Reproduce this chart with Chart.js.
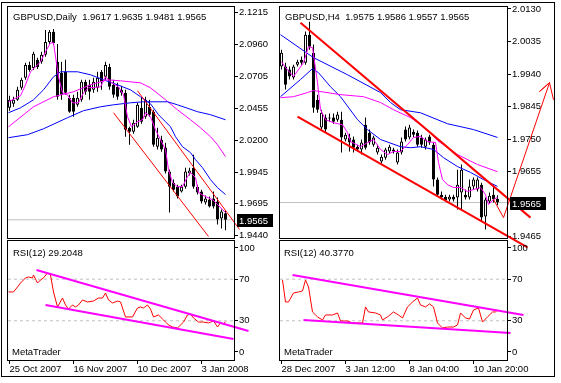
<!DOCTYPE html>
<html><head><meta charset="utf-8">
<script src="https://cdn.jsdelivr.net/npm/chart.js@4.4.1/dist/chart.umd.min.js"></script>
<style>
html,body{margin:0;padding:0;background:#fff;}
#wrap{position:relative;width:561px;height:383px;overflow:hidden;background:#fff;}
canvas{position:absolute;left:0;top:0;}
.t{position:absolute;font-family:'Liberation Sans',Arial,sans-serif;font-size:9.5px;line-height:11px;color:#000;white-space:pre;}
#frame{position:absolute;left:1px;top:2px;width:552px;height:373px;border:1px solid #000;}
</style></head><body>
<div id="wrap">
<div id="frame"></div>
<canvas id="lm" width="561" height="383"></canvas>
<canvas id="lr" width="561" height="383"></canvas>
<canvas id="rm" width="561" height="383"></canvas>
<canvas id="rr" width="561" height="383"></canvas>
<div class="t" id="ltitle" style="left:13px;top:11px"></div>
<div class="t" id="lrsi" style="left:13px;top:247px"></div>
<div class="t" style="left:12px;top:346px">MetaTrader</div>
<div class="t" id="rtitle" style="left:285px;top:11px"></div>
<div class="t" id="rrsi" style="left:284px;top:247px"></div>
<div class="t" style="left:284px;top:346px">MetaTrader</div>
</div>
<script>
// ---------------- LEFT (Daily) ----------------
const leftSymbol = 'GBPUSD,Daily';
const leftDateIdx = [0, 16, 32, 48];
const leftDates = ['25 Oct 2007', '16 Nov 2007', '10 Dec 2007', '3 Jan 2008'];
const leftPriceTicks = [2.1215, 2.0960, 2.0705, 2.0455, 2.0200, 1.9945, 1.9695, 1.9440];
const leftOpen = [2.0457,2.0489,2.0521,2.0616,2.0696,2.0799,2.0775,2.0839,2.0823,2.0879,
  2.0982,2.1062,2.0823,2.0736,2.0744,2.0537,2.0537,2.0481,2.0521,2.0664,
  2.0640,2.0600,2.0616,2.0744,2.0704,2.0783,2.0640,2.0624,2.0600,2.0577,
  2.0298,2.0267,2.0306,2.0457,2.0386,2.0465,2.0426,2.0147,2.0203,2.0140,
  1.9949,1.9861,1.9829,1.9790,1.9829,1.9933,1.9980,1.9829,1.9790,1.9702,
  1.9726,1.9734,1.9710,1.9575,1.9617];
const leftHigh = [2.0553,2.0545,2.0624,2.0696,2.0815,2.0823,2.0903,2.0855,2.0903,2.1077,
  2.1077,2.1085,2.0966,2.0823,2.0839,2.0561,2.0561,2.0585,2.0680,2.0680,
  2.0680,2.0696,2.0744,2.0759,2.0823,2.0807,2.0680,2.0656,2.0632,2.0600,
  2.0306,2.0362,2.0497,2.0537,2.0545,2.0521,2.0441,2.0298,2.0235,2.0179,
  1.9965,1.9885,1.9845,1.9845,1.9980,1.9980,2.0084,1.9845,1.9805,1.9758,
  1.9750,1.9790,1.9742,1.9647,1.9635];
const leftLow = [2.0433,2.0465,2.0513,2.0600,2.0680,2.0744,2.0759,2.0767,2.0807,2.0863,
  2.0966,2.0958,2.0521,2.0521,2.0561,2.0418,2.0386,2.0465,2.0505,2.0561,
  2.0521,2.0577,2.0585,2.0600,2.0680,2.0600,2.0537,2.0521,2.0553,2.0227,
  2.0163,2.0251,2.0298,2.0330,2.0370,2.0386,2.0147,2.0124,2.0108,1.9933,
  1.9623,1.9790,1.9734,1.9782,1.9813,1.9917,1.9813,1.9766,1.9694,1.9686,
  1.9663,1.9655,1.9527,1.9495,1.9481];
const leftClose = [2.0521,2.0521,2.0600,2.0680,2.0799,2.0759,2.0887,2.0783,2.0879,2.0982,
  2.1062,2.0974,2.0545,2.0561,2.0577,2.0426,2.0426,2.0537,2.0664,2.0585,
  2.0585,2.0664,2.0696,2.0664,2.0799,2.0624,2.0561,2.0545,2.0577,2.0282,
  2.0267,2.0338,2.0481,2.0346,2.0521,2.0402,2.0163,2.0219,2.0124,1.9949,
  1.9829,1.9805,1.9750,1.9829,1.9949,1.9957,1.9829,1.9782,1.9710,1.9734,
  1.9671,1.9671,1.9567,1.9631,1.9565];
// moving averages: [bar index, price]
const leftMaFast = [[-0.25,2.0505],[2.75,2.0553],[4,2.0640],[5.25,2.0744],[7.75,2.0823],[9.25,2.0918],[10.25,2.0974],[11,2.0974],[12.25,2.0704],[13.25,2.0577],[14.5,2.0561],[15.75,2.0497],[17.25,2.0497],[18.5,2.0577],[19.75,2.0616],[22.75,2.0624],[24,2.0704],[25.25,2.0664],[27.25,2.0624],[28.5,2.0561],[29.5,2.0386],[30.5,2.0306],[32,2.0346],[33.25,2.0362],[34,2.0418],[35.25,2.0386],[36.5,2.0282],[37.75,2.0203],[39,2.0124],[39.75,1.9965],[40.75,1.9861],[42,1.9829],[43.25,1.9829],[44.5,1.9909],[45.25,1.9941],[46.5,1.9901],[47.25,1.9782],[49,1.9750],[50.75,1.9726],[52,1.9686],[53.25,1.9647],[54,1.9623]];
const leftMaBlueMid = [[-0.25,2.0418],[2.75,2.0457],[6,2.0521],[8.5,2.0600],[11,2.0704],[12.75,2.0744],[17,2.0744],[20.25,2.0720],[23.5,2.0680],[27,2.0640],[30.25,2.0600],[32.75,2.0545],[35.25,2.0489],[37.25,2.0402],[39,2.0346],[40.25,2.0306],[41.5,2.0227],[43.25,2.0147],[45.25,2.0100],[46.5,2.0044],[48.25,1.9980],[50.25,1.9885],[52,1.9821],[54,1.9766]];
const leftMaPinkSlow = [[-0.25,2.0306],[6,2.0465],[11,2.0545],[16,2.0585],[20.25,2.0640],[24.5,2.0680],[27.75,2.0672],[32.75,2.0656],[35.25,2.0616],[39,2.0521],[42,2.0441],[45.25,2.0362],[47.75,2.0298],[50.25,2.0227],[52,2.0163],[54,2.0068]];
const leftMaBlueSlow = [[-0.25,2.0219],[4.5,2.0243],[8.5,2.0290],[14.5,2.0378],[18.5,2.0434],[22.75,2.0465],[26,2.0481],[30.25,2.0497],[33.5,2.0505],[39.5,2.0505],[42,2.0481],[47,2.0426],[50.25,2.0402],[54,2.0362]];
const leftTrendUpper = [[32,2.0593],[57.5,1.9488]];
const leftTrendLower = [[26,2.0418],[49.75,1.9432]];
const leftRsiLast = 29.2048;
const leftRsi = [[-0.25,57.7],[1,57.7],[2,62.5],[2.75,66.3],[4,71.2],[4.75,72.1],[5.75,71.2],[6,74.0],[7,66.3],[7.75,69.2],[8.5,71.2],[9.5,76.0],[10.25,74.0],[11,57.7],[12,43.3],[13.25,51.9],[14,45.2],[14.75,41.3],[15.75,45.2],[16.5,43.3],[17.25,45.2],[18.25,50.0],[19.5,48.1],[21,49.0],[22.25,51.9],[23.25,51.9],[24,56.7],[24.75,50.0],[25.75,47.1],[27,49.0],[27.75,48.1],[29,33.7],[30.75,33.7],[32,42.3],[32.75,43.3],[33.5,42.3],[34.5,45.2],[35.25,41.3],[36,33.7],[37.25,35.6],[38.5,30.8],[39.75,26.0],[40.75,24.0],[42,23.1],[43.5,28.8],[44.5,35.6],[45.25,36.5],[46,32.7],[47.25,28.8],[48.5,28.8],[49.75,27.9],[51,29.8],[52,24.0],[52.75,27.9],[53.5,26.9],[54,leftRsiLast]];
const leftRsiTrendUpper = [[6.75,78.8],[59.75,20.2]];
const leftRsiTrendLower = [[9,45.2],[56,12.5]];

// ---------------- RIGHT (H4) ----------------
const rightSymbol = 'GBPUSD,H4';
const rightDateIdx = [0, 16, 32, 48];
const rightDates = ['28 Dec 2007', '3 Jan 12:00', '8 Jan 04:00', '10 Jan 20:00'];
const rightPriceTicks = [2.0130, 2.0035, 1.9940, 1.9845, 1.9750, 1.9655, 1.9465];
const rightOpen = [1.9962,1.9962,1.9953,1.9930,1.9967,1.9982,1.9973,2.0055,2.0002,1.9865,
  1.9784,1.9813,1.9813,1.9813,1.9807,1.9807,1.9749,1.9755,1.9749,1.9728,
  1.9720,1.9792,1.9769,1.9734,1.9711,1.9685,1.9696,1.9714,1.9714,1.9682,
  1.9711,1.9778,1.9755,1.9772,1.9769,1.9755,1.9728,1.9758,1.9734,1.9632,
  1.9588,1.9582,1.9574,1.9582,1.9580,1.9594,1.9588,1.9580,1.9612,1.9603,
  1.9617,1.9524,1.9568,1.9588,1.9575];
const rightHigh = [2.0011,1.9973,1.9962,1.9967,1.9982,1.9991,2.0064,2.0093,2.0026,1.9880,
  1.9836,1.9822,1.9825,1.9825,1.9830,1.9830,1.9769,1.9766,1.9758,1.9734,
  1.9749,1.9813,1.9778,1.9760,1.9734,1.9705,1.9725,1.9734,1.9725,1.9720,
  1.9755,1.9787,1.9792,1.9778,1.9775,1.9763,1.9755,1.9763,1.9740,1.9638,
  1.9597,1.9588,1.9588,1.9588,1.9661,1.9676,1.9603,1.9632,1.9638,1.9638,
  1.9623,1.9580,1.9594,1.9614,1.9586];
const rightLow = [1.9953,1.9895,1.9924,1.9924,1.9962,1.9967,1.9967,2.0011,1.9827,1.9827,
  1.9778,1.9772,1.9801,1.9795,1.9801,1.9711,1.9743,1.9714,1.9711,1.9714,
  1.9705,1.9720,1.9734,1.9728,1.9705,1.9679,1.9690,1.9708,1.9708,1.9676,
  1.9705,1.9743,1.9749,1.9755,1.9728,1.9725,1.9720,1.9734,1.9612,1.9582,
  1.9574,1.9568,1.9568,1.9568,1.9545,1.9545,1.9574,1.9574,1.9603,1.9597,
  1.9510,1.9486,1.9562,1.9565,1.9557];
const rightClose = [2.0002,1.9909,1.9933,1.9962,1.9976,1.9973,2.0055,2.0020,1.9842,1.9836,
  1.9827,1.9778,1.9810,1.9801,1.9822,1.9755,1.9763,1.9740,1.9725,1.9720,
  1.9740,1.9725,1.9740,1.9755,1.9725,1.9699,1.9720,1.9728,1.9720,1.9711,
  1.9743,1.9749,1.9784,1.9763,1.9734,1.9734,1.9749,1.9740,1.9632,1.9588,
  1.9580,1.9571,1.9582,1.9574,1.9617,1.9661,1.9580,1.9612,1.9632,1.9632,
  1.9521,1.9574,1.9585,1.9574,1.9565];
const rightMaFast = [[0,1.9976],[1,1.9959],[3,1.9933],[5.5,1.9973],[6.75,2.0020],[7.75,2.0017],[9,1.9915],[9.75,1.9836],[11,1.9807],[13,1.9798],[15.25,1.9792],[16.5,1.9769],[17.25,1.9743],[19.75,1.9728],[21.5,1.9740],[23,1.9749],[24.75,1.9720],[26.5,1.9705],[28,1.9714],[29.75,1.9714],[31.5,1.9734],[33,1.9755],[34.75,1.9758],[36.5,1.9743],[38.5,1.9740],[39.25,1.9682],[40.25,1.9632],[41.5,1.9617],[43,1.9609],[44.75,1.9609],[46.5,1.9597],[48,1.9603],[49.75,1.9609],[51,1.9588],[51.75,1.9559],[53,1.9574],[54,1.9580]];
const rightMaBlueMid = [[-0.25,1.9874],[4.75,1.9924],[7.75,1.9956],[9.25,1.9944],[12.25,1.9903],[14.75,1.9874],[19,1.9807],[21.5,1.9778],[24.75,1.9749],[29.75,1.9728],[32.25,1.9725],[34.75,1.9728],[38,1.9720],[40.5,1.9696],[44,1.9670],[47.25,1.9653],[50.5,1.9632],[54,1.9612]];
const rightMaPinkSlow = [[-0.25,1.9871],[3,1.9874],[6.5,1.9886],[8,1.9892],[14.75,1.9880],[20.5,1.9874],[24.75,1.9857],[28,1.9836],[32.25,1.9813],[35.5,1.9787],[39,1.9746],[44,1.9705],[49,1.9676],[54,1.9655]];
const rightMaBlueSlow = [[-0.25,2.0055],[8,1.9988],[16.5,1.9938],[24.75,1.9886],[27.25,1.9857],[29.75,1.9836],[34.75,1.9827],[41.5,1.9795],[48,1.9778],[54,1.9755]];
const rightTrendUpper = [[4.75,2.0090],[62.25,1.9521]];
const rightTrendLower = [[4,1.9816],[61.5,1.9434]];
const rightArrow = [[53,1.9574],[55.5,1.9521],[67,1.9915],[64.5,1.9889],[67,1.9915],[68,1.9865]];
const rightRsiLast = 40.3770;
const rightRsi = [[0.25,69.2],[1,48.1],[1.75,48.1],[3,56.7],[4.25,57.7],[5.25,58.7],[6,69.2],[6.75,62.5],[7.75,38.5],[9,33.7],[10.25,30.8],[11,35.6],[12.75,35.6],[14,37.5],[14.75,29.8],[16.5,29.8],[17.75,27.9],[20.25,27.9],[21,43.3],[21.75,38.5],[23.5,37.5],[24.75,35.6],[25.25,30.8],[26.5,33.7],[28,38.5],[29.25,35.6],[30.25,32.7],[31.5,43.3],[32.75,48.1],[34,51.9],[34.75,45.2],[36,43.3],[37,46.2],[38,43.3],[39,27.9],[40.25,23.1],[41.5,24.0],[43,24.0],[44,26.0],[44.75,37.5],[46,32.7],[47,31.7],[48,40.4],[49.25,42.3],[50.25,28.8],[51.5,33.7],[52.75,38.5],[53.5,38.5],[54,rightRsiLast]];
const rightRsiTrendUpper = [[2.75,74.0],[60.5,35.6]];
const rightRsiTrendLower = [[5.5,30.8],[57.25,18.3]];

const rsiTicks = [0, 30, 70, 100];
const rsiLevels = [30, 70];

// ---------------- drawing ----------------
const FONT = "'Liberation Sans',Arial,sans-serif";
const FS = 9.5;
const W = 561, H = 383, AXW = 46, XAH = 16;
const BLUE = '#0000ff', PINK = '#ff00ff', RED = '#ff0000';
Chart.defaults.font.family = FONT;
Chart.defaults.font.size = FS;
Chart.defaults.color = '#000';

const framePlugin = {id:'frame', afterDraw(ch){
  const a = ch.chartArea, c = ch.ctx;
  c.save(); c.strokeStyle = '#000'; c.lineWidth = 1;
  c.strokeRect(Math.round(a.left) - 0.5, Math.round(a.top) - 0.5, Math.round(a.right - a.left) + 1, Math.round(a.bottom - a.top) + 1);
  c.restore();
}};
function priceBox(value){ return {id:'pbox', afterDraw(ch){
  const y = Math.round(ch.scales.y.getPixelForValue(value)); const a = ch.chartArea, c = ch.ctx;
  c.save(); c.fillStyle = '#000'; c.fillRect(Math.round(a.right) + 3, y - 6, 36, 13);
  c.fillStyle = '#fff'; c.font = FS + 'px ' + FONT; c.textBaseline = 'middle';
  c.fillText(value.toFixed(4), Math.round(a.right) + 5, y + 1); c.restore();
}}; }

function candleSets(o, h, l, c){
  const idx = o.map((_, i) => i);
  return [
    {type:'bar', order:6, grouped:false, barThickness:1, inflateAmount:0, minBarLength:1, borderWidth:0,
     backgroundColor:'#000', data: idx.map(i => ({x:i, y:[l[i], h[i]]}))},
    {type:'bar', order:5, grouped:false, barThickness:3, inflateAmount:0, minBarLength:1, borderWidth:1, borderSkipped:false,
     borderColor:'#000', backgroundColor: idx.map(i => c[i] > o[i] ? '#fff' : '#000'),
     data: idx.map(i => ({x:i, y:[o[i], c[i]]}))}
  ];
}
function lineSet(pts, color, width, order, extra){
  return Object.assign({type:'line', order, data: pts.map(p => ({x:p[0], y:p[1]})), borderColor:color,
    borderWidth:width, pointRadius:0, tension:0, fill:false}, extra || {});
}
function yAxis(min, max, ticks, fmt){
  return {type:'linear', position:'right', min, max,
    afterBuildTicks: s => { s.ticks = ticks.map(v => ({value:v})); },
    afterFit: s => { s.width = AXW; },
    border:{display:false},
    grid:{display:true, drawOnChartArea:false, drawTicks:true, tickLength:4, color:'#000', tickColor:'#000'},
    ticks:{autoSkip:false, padding:1, color:'#000', font:{size:FS, lineHeight:1}, callback: fmt}};
}
function xAxis(min, max, idx, labels, show){
  return {type:'linear', position:'bottom', min, max, offset:false, display: show,
    afterBuildTicks: s => { s.ticks = idx.map(v => ({value:v})); },
    afterFit: s => { s.height = show ? XAH : 0; },
    border:{display:false},
    grid:{display:true, drawOnChartArea:false, drawTicks:true, tickLength:4, color:'#000'},
    ticks:{autoSkip:false, maxRotation:0, minRotation:0, align:'start', padding:1, color:'#000',
      font:{size:FS, lineHeight:1}, callback: v => labels[idx.indexOf(v)]}};
}
function baseOptions(area, scales, xAxisH){
  return {responsive:false, devicePixelRatio:1, animation:false, events:[],
    layout:{padding:{left:area.l, top:area.t, right:W - area.r - AXW, bottom:H - area.b - xAxisH}},
    scales, plugins:{legend:{display:false}, tooltip:{enabled:false}}};
}
function fmt4(v){ return v.toFixed(4); }

function buildPanel(p){
  const xr = p.xr;
  const n = p.open.length, last = p.close[n - 1];
  const mainSets = [
    ...candleSets(p.open, p.high, p.low, p.close),
    lineSet([[xr[0], last],[xr[1], last]], '#c0c0c0', 1, 7),
    lineSet(p.maBlueSlow, BLUE, 1, 4),
    lineSet(p.maPinkSlow, PINK, 1, 4),
    lineSet(p.maBlueMid, BLUE, 1, 4),
    lineSet(p.maFast, PINK, 1, 3),
    lineSet(p.trendUpper, RED, p.trendW, 2, {clip:false}),
    lineSet(p.trendLower, RED, p.trendW, 2, {clip:false}),
  ];
  if (p.arrow) mainSets.push(lineSet(p.arrow, RED, 1, 1, {clip:false}));
  new Chart(document.getElementById(p.mainId), {type:'bar', data:{datasets: mainSets},
    options: baseOptions(p.mainArea, {x: xAxis(xr[0], xr[1], p.dateIdx, p.dates, false), y: yAxis(p.yr[0], p.yr[1], p.priceTicks, fmt4)}, 0),
    plugins:[framePlugin, priceBox(last)]});
  const rsiSets = [
    ...rsiLevels.map(lv => lineSet([[xr[0], lv],[xr[1], lv]], '#c0c0c0', 1, 5, {borderDash:[3,3]})),
    lineSet(p.rsi, RED, 1, 2),
    lineSet(p.rsiUpper, PINK, 2, 1, {clip:false}),
    lineSet(p.rsiLower, PINK, 2, 1, {clip:false}),
  ];
  new Chart(document.getElementById(p.rsiId), {type:'line', data:{datasets: rsiSets},
    options: baseOptions(p.rsiArea, {x: xAxis(xr[0], xr[1], p.dateIdx, p.dates, true), y: yAxis(-7.7, 106.7, rsiTicks, v => String(v))}, XAH),
    plugins:[framePlugin]});
  document.getElementById(p.titleId).textContent = p.symbol + '  ' + [p.open[n-1], p.high[n-1], p.low[n-1], p.close[n-1]].map(fmt4).join(' ');
  document.getElementById(p.rsiTextId).textContent = 'RSI(12) ' + p.rsiLast.toFixed(4);
}

buildPanel({mainId:'lm', rsiId:'lr', titleId:'ltitle', rsiTextId:'lrsi', symbol:leftSymbol,
  mainArea:{l:8, r:234, t:7, b:238}, rsiArea:{l:8, r:234, t:241, b:360},
  xr:[-0.375, 56.125], yr:[1.9420, 2.1260], priceTicks:leftPriceTicks, dateIdx:leftDateIdx, dates:leftDates,
  open:leftOpen, high:leftHigh, low:leftLow, close:leftClose,
  maFast:leftMaFast, maBlueMid:leftMaBlueMid, maPinkSlow:leftMaPinkSlow, maBlueSlow:leftMaBlueSlow,
  trendUpper:leftTrendUpper, trendLower:leftTrendLower, trendW:1,
  rsi:leftRsi, rsiLast:leftRsiLast, rsiUpper:leftRsiTrendUpper, rsiLower:leftRsiTrendLower});
buildPanel({mainId:'rm', rsiId:'rr', titleId:'rtitle', rsiTextId:'rrsi', symbol:rightSymbol,
  mainArea:{l:280, r:507, t:7, b:238}, rsiArea:{l:280, r:507, t:241, b:360},
  xr:[-0.375, 56.375], yr:[1.94615, 2.01358], priceTicks:rightPriceTicks, dateIdx:rightDateIdx, dates:rightDates,
  open:rightOpen, high:rightHigh, low:rightLow, close:rightClose,
  maFast:rightMaFast, maBlueMid:rightMaBlueMid, maPinkSlow:rightMaPinkSlow, maBlueSlow:rightMaBlueSlow,
  trendUpper:rightTrendUpper, trendLower:rightTrendLower, trendW:2, arrow:rightArrow,
  rsi:rightRsi, rsiLast:rightRsiLast, rsiUpper:rightRsiTrendUpper, rsiLower:rightRsiTrendLower});
</script>
</body></html>
